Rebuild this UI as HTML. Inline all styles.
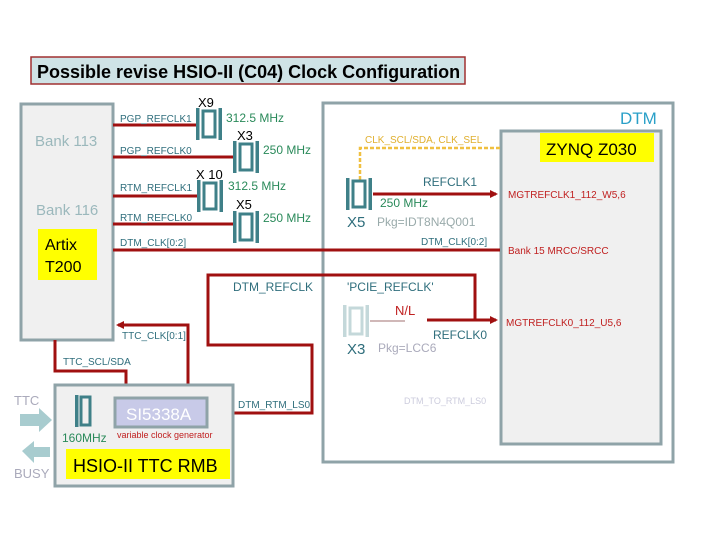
<!DOCTYPE html>
<html><head><meta charset="utf-8"><style>
body{margin:0;background:#fff;}
svg text{font-family:"Liberation Sans",sans-serif;}
</style></head><body>
<svg width="720" height="540" viewBox="0 0 720 540" xmlns="http://www.w3.org/2000/svg">
<defs>
<g id="xt"><rect x="0" y="0" width="3.5" height="32" fill="#3f8088"/><rect x="22.5" y="0" width="3.5" height="32" fill="#3f8088"/><rect x="7" y="3" width="12" height="26" fill="none" stroke="#3f8088" stroke-width="3"/></g>
<marker id="ar" markerWidth="8" markerHeight="8" refX="6" refY="4" orient="auto" markerUnits="userSpaceOnUse"><path d="M0,0 L8,4 L0,8 z" fill="#a01010"/></marker>
</defs>
<rect x="31" y="57" width="434" height="27" fill="#cfe3e6" stroke="#a03030" stroke-width="1.5"/>
<text x="37" y="78" font-size="18" font-weight="bold" fill="#000">Possible revise HSIO-II (C04) Clock Configuration</text>
<rect x="21" y="104" width="92" height="236" fill="#f0f0f0" stroke="#8fa3a8" stroke-width="3"/>
<text x="35" y="146" font-size="15" fill="#9bb8bc">Bank 113</text>
<text x="36" y="215" font-size="15" fill="#9bb8bc">Bank 116</text>
<rect x="38" y="229" width="59" height="51" fill="#ffff00"/>
<text x="45" y="250" font-size="16" fill="#000">Artix</text>
<text x="45" y="272" font-size="16" fill="#000">T200</text>
<rect x="323" y="103" width="350" height="359" fill="#fff" stroke="#8fa3a8" stroke-width="3"/>
<text x="620" y="124" font-size="17" fill="#2aa0c8">DTM</text>
<rect x="501" y="131" width="160" height="313" fill="#f0f0f0" stroke="#8fa3a8" stroke-width="3"/>
<rect x="540" y="133" width="114" height="29" fill="#ffff00"/>
<text x="546" y="155" font-size="17" fill="#000">ZYNQ Z030</text>
<g stroke="#a01010" stroke-width="3" fill="none">
<line x1="113" y1="125" x2="198" y2="125"/>
<line x1="113" y1="157" x2="233" y2="157"/>
<line x1="113" y1="196" x2="198" y2="196"/>
<line x1="113" y1="224" x2="233" y2="224"/>
<line x1="113" y1="250" x2="500" y2="250"/>
<polyline points="208,413 312,413 312,345 208,345 208,275 475,275 475,320"/>
<line x1="427" y1="320" x2="496" y2="320" marker-end="url(#ar)"/>
<line x1="373" y1="194" x2="496" y2="194" marker-end="url(#ar)"/>
<polyline points="188,397 188,325 118,325" marker-end="url(#ar)"/>
<polyline points="55,340 55,371 126,371 126,397"/>
<line x1="93" y1="412" x2="114" y2="412"/>
</g>
<use href="#xt" x="196" y="108"/>
<use href="#xt" x="233" y="141"/>
<use href="#xt" x="197" y="180"/>
<use href="#xt" x="233" y="211"/>
<g font-size="10" fill="#2f6e7c">
<text x="120" y="122">PGP_REFCLK1</text>
<text x="120" y="154">PGP_REFCLK0</text>
<text x="120" y="191">RTM_REFCLK1</text>
<text x="120" y="221">RTM_REFCLK0</text>
<text x="120" y="246">DTM_CLK[0:2]</text>
</g>
<g font-size="13" fill="#000">
<text x="198" y="107">X9</text>
<text x="237" y="140">X3</text>
<text x="196" y="179">X 10</text>
<text x="236" y="209">X5</text>
</g>
<g font-size="12" fill="#2a8a5a">
<text x="226" y="122">312.5 MHz</text>
<text x="263" y="154">250 MHz</text>
<text x="228" y="190">312.5 MHz</text>
<text x="263" y="222">250 MHz</text>
</g>
<polyline points="360,180 360,148 500,148" fill="none" stroke="#f0c040" stroke-width="2.5" stroke-dasharray="4,2"/>
<text x="365" y="143" font-size="10" fill="#e0b030">CLK_SCL/SDA, CLK_SEL</text>
<use href="#xt" x="346" y="178"/>
<text x="423" y="186" font-size="12" fill="#2f6e7c">REFCLK1</text>
<text x="380" y="207" font-size="12" fill="#2a8a5a">250 MHz</text>
<text x="347" y="227" font-size="15" fill="#2f6e7c">X5</text>
<text x="377" y="226" font-size="12" fill="#9aa">Pkg=IDT8N4Q001</text>
<text x="421" y="245" font-size="10" fill="#2f6e7c">DTM_CLK[0:2]</text>
<text x="508" y="198" font-size="10" fill="#c02020">MGTREFCLK1_112_W5,6</text>
<text x="508" y="254" font-size="10" fill="#c02020">Bank 15 MRCC/SRCC</text>
<text x="506" y="326" font-size="10" fill="#c02020">MGTREFCLK0_112_U5,6</text>
<text x="233" y="291" font-size="12" fill="#2f6e7c">DTM_REFCLK</text>
<text x="347" y="291" font-size="12" fill="#2f6e7c">'PCIE_REFCLK'</text>
<g opacity="0.3"><use href="#xt" x="343" y="305"/></g>
<line x1="370" y1="321" x2="405" y2="321" stroke="#d0b8b8" stroke-width="2"/>
<text x="395" y="315" font-size="13" fill="#c02020">N/L</text>
<text x="433" y="339" font-size="12" fill="#2f6e7c">REFCLK0</text>
<text x="347" y="354" font-size="15" fill="#2f6e7c">X3</text>
<text x="378" y="352" font-size="12" fill="#aab">Pkg=LCC6</text>
<text x="404" y="404" font-size="9" fill="#ccd">DTM_TO_RTM_LS0</text>
<text x="122" y="339" font-size="10" fill="#2f6e7c">TTC_CLK[0:1]</text>
<text x="63" y="365" font-size="10" fill="#2f6e7c">TTC_SCL/SDA</text>
<text x="238" y="408" font-size="10" fill="#2f6e7c">DTM_RTM_LS0</text>
<rect x="55" y="385" width="178" height="101" fill="#f0f0f0" stroke="#8fa3a8" stroke-width="3"/>
<rect x="75" y="395" width="3.5" height="32" fill="#3f8088"/><rect x="81" y="397" width="9" height="28" fill="none" stroke="#3f8088" stroke-width="3"/>
<rect x="115" y="398" width="92" height="29" fill="#c8cae8" stroke="#8fa3a8" stroke-width="3"/>
<text x="126" y="420" font-size="17" fill="#fff">SI5338A</text>
<text x="62" y="442" font-size="12" fill="#2a8a5a">160MHz</text>
<text x="117" y="438" font-size="9" fill="#c02020">variable clock generator</text>
<rect x="66" y="449" width="164" height="30" fill="#ffff00"/>
<text x="73" y="472" font-size="18" fill="#000">HSIO-II TTC RMB</text>
<text x="14" y="405" font-size="13" fill="#aab">TTC</text>
<path d="M20,414 L39,414 L39,408 L52,420 L39,432 L39,426 L20,426 z" fill="#a8cccf"/>
<path d="M22,451 L34,441 L34,447 L50,447 L50,457 L34,457 L34,463 z" fill="#a8cccf"/>
<text x="14" y="478" font-size="13" fill="#aab">BUSY</text>
</svg>
</body></html>
